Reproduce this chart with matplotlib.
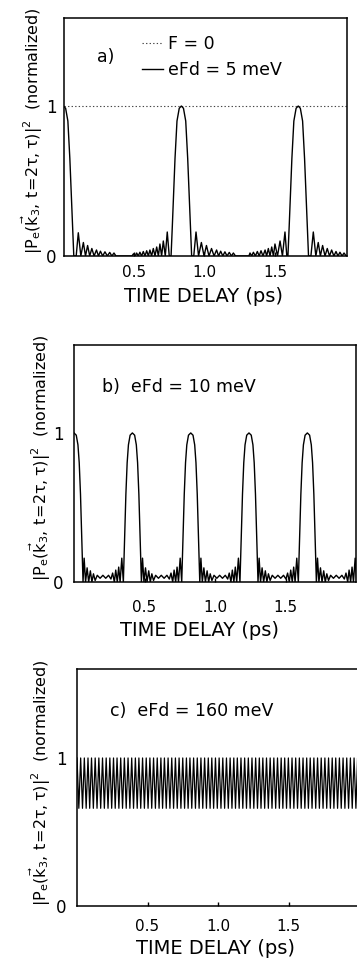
import matplotlib
matplotlib.use("Agg")
import matplotlib.pyplot as plt
import numpy as np

# ------------------------------------------------------------------ data
# panel a : eFd = 5 meV  (time delay in ps, normalized signal)
a_time = [0.000, 0.015, 0.031, 0.045, 0.055, 0.064, 0.073,
          0.090, 0.105, 0.123, 0.141, 0.156, 0.171, 0.186, 0.201, 0.217, 0.234, 0.248,
          0.262, 0.278, 0.294, 0.311, 0.328, 0.343, 0.358, 0.372, 0.485,
          0.497, 0.508, 0.519, 0.530, 0.542, 0.554, 0.566, 0.578, 0.590, 0.602, 0.613,
          0.625, 0.637, 0.649, 0.661, 0.673, 0.684, 0.696, 0.708, 0.722, 0.736, 0.750,
          0.763, 0.772, 0.781, 0.791, 0.805, 0.821, 0.836, 0.851, 0.867, 0.881, 0.891,
          0.900, 0.909,
          0.924, 0.940, 0.958, 0.978, 0.997, 1.014, 1.032, 1.050, 1.068, 1.086, 1.100,
          1.115, 1.130, 1.145, 1.160, 1.176, 1.191, 1.205, 1.220, 1.315,
          1.323, 1.335, 1.347, 1.361, 1.375, 1.388, 1.401, 1.415, 1.430, 1.441, 1.453,
          1.465, 1.477, 1.489, 1.500, 1.518, 1.536, 1.553, 1.571, 1.584,
          1.592, 1.601, 1.610, 1.620, 1.634, 1.650, 1.665, 1.680, 1.696, 1.710, 1.720,
          1.729, 1.738,
          1.755, 1.772, 1.790, 1.807, 1.822, 1.838, 1.855, 1.871, 1.887, 1.902, 1.918,
          1.933, 1.947, 1.961, 1.976, 1.990, 2.005, 2.020]
a_value = [1.00, 0.985, 0.90, 0.65, 0.42, 0.20, 0.00,
           0.00, 0.155, 0.00, 0.09, 0.00, 0.07, 0.00, 0.05, 0.00, 0.04, 0.00,
           0.032, 0.00, 0.028, 0.00, 0.024, 0.00, 0.02, 0.00, 0.00,
           0.015, 0.00, 0.02, 0.00, 0.025, 0.00, 0.03, 0.00, 0.035, 0.00, 0.04,
           0.00, 0.05, 0.00, 0.06, 0.00, 0.08, 0.00, 0.10, 0.00, 0.16, 0.00,
           0.00, 0.20, 0.42, 0.65, 0.90, 0.985, 1.00, 0.985, 0.90, 0.65, 0.42,
           0.20, 0.00,
           0.00, 0.16, 0.00, 0.09, 0.00, 0.07, 0.00, 0.05, 0.00, 0.04, 0.00,
           0.032, 0.00, 0.028, 0.00, 0.024, 0.00, 0.02, 0.00, 0.00,
           0.02, 0.00, 0.025, 0.00, 0.03, 0.00, 0.035, 0.00, 0.04, 0.00, 0.05,
           0.00, 0.06, 0.00, 0.08, 0.00, 0.10, 0.00, 0.16, 0.00,
           0.00, 0.20, 0.42, 0.65, 0.90, 0.985, 1.00, 0.985, 0.90, 0.65, 0.42,
           0.20, 0.00,
           0.00, 0.16, 0.00, 0.09, 0.00, 0.07, 0.00, 0.05, 0.00, 0.04, 0.00,
           0.03, 0.00, 0.025, 0.00, 0.02, 0.00, 0.00]
f0_level = 1.0   # F = 0 curve (constant)

# panel b : eFd = 10 meV
b_time = [0.000, 0.016, 0.028, 0.037, 0.046, 0.055, 0.064,
          0.072, 0.082, 0.093, 0.104, 0.116, 0.127, 0.138, 0.150, 0.165, 0.185, 0.205,
          0.225, 0.245, 0.262, 0.274, 0.286, 0.296, 0.307, 0.317, 0.327, 0.339,
          0.350, 0.359, 0.368, 0.377, 0.386, 0.398, 0.414, 0.430, 0.442, 0.451, 0.460,
          0.469, 0.478,
          0.486, 0.496, 0.507, 0.518, 0.530, 0.541, 0.552, 0.564, 0.579, 0.599, 0.619,
          0.639, 0.659, 0.676, 0.688, 0.700, 0.710, 0.721, 0.731, 0.741, 0.753,
          0.764, 0.773, 0.782, 0.791, 0.800, 0.812, 0.828, 0.844, 0.856, 0.865, 0.874,
          0.883, 0.892,
          0.900, 0.910, 0.921, 0.932, 0.944, 0.955, 0.966, 0.978, 0.993, 1.013, 1.033,
          1.053, 1.073, 1.090, 1.101, 1.113, 1.123, 1.134, 1.144, 1.154, 1.166,
          1.177, 1.186, 1.195, 1.204, 1.213, 1.225, 1.241, 1.257, 1.269, 1.278, 1.287,
          1.296, 1.305,
          1.313, 1.323, 1.334, 1.345, 1.357, 1.368, 1.379, 1.391, 1.406, 1.426, 1.446,
          1.466, 1.486, 1.503, 1.515, 1.527, 1.537, 1.548, 1.558, 1.568, 1.580,
          1.591, 1.600, 1.609, 1.618, 1.627, 1.639, 1.655, 1.671, 1.683, 1.692, 1.701,
          1.710, 1.719,
          1.727, 1.737, 1.748, 1.759, 1.771, 1.782, 1.793, 1.805, 1.820, 1.840, 1.860,
          1.880, 1.900, 1.917, 1.929, 1.941, 1.951, 1.962, 1.972, 1.982, 1.994,
          2.005, 2.014]
b_value = [1.00, 0.985, 0.92, 0.80, 0.59, 0.30, 0.00,
           0.16, 0.00, 0.095, 0.00, 0.075, 0.00, 0.055, 0.01, 0.045, 0.025, 0.045,
           0.025, 0.045, 0.02, 0.06, 0.00, 0.08, 0.00, 0.10, 0.00, 0.16,
           0.00, 0.30, 0.59, 0.80, 0.92, 0.985, 1.00, 0.985, 0.92, 0.80, 0.59,
           0.30, 0.00,
           0.16, 0.00, 0.095, 0.00, 0.075, 0.00, 0.055, 0.01, 0.045, 0.025, 0.045,
           0.025, 0.045, 0.02, 0.06, 0.00, 0.08, 0.00, 0.10, 0.00, 0.16,
           0.00, 0.30, 0.59, 0.80, 0.92, 0.985, 1.00, 0.985, 0.92, 0.80, 0.59,
           0.30, 0.00,
           0.16, 0.00, 0.095, 0.00, 0.075, 0.00, 0.055, 0.01, 0.045, 0.025, 0.045,
           0.025, 0.045, 0.02, 0.06, 0.00, 0.08, 0.00, 0.10, 0.00, 0.16,
           0.00, 0.30, 0.59, 0.80, 0.92, 0.985, 1.00, 0.985, 0.92, 0.80, 0.59,
           0.30, 0.00,
           0.16, 0.00, 0.095, 0.00, 0.075, 0.00, 0.055, 0.01, 0.045, 0.025, 0.045,
           0.025, 0.045, 0.02, 0.06, 0.00, 0.08, 0.00, 0.10, 0.00, 0.16,
           0.00, 0.30, 0.59, 0.80, 0.92, 0.985, 1.00, 0.985, 0.92, 0.80, 0.59,
           0.30, 0.00,
           0.16, 0.00, 0.095, 0.00, 0.075, 0.00, 0.055, 0.01, 0.045, 0.025, 0.045,
           0.025, 0.045, 0.02, 0.06, 0.00, 0.08, 0.00, 0.10, 0.00, 0.16,
           0.00, 0.30]

# panel c : eFd = 160 meV  (fast oscillation between ~0.66 and 1.0)
c_peak_time = [0.000, 0.026, 0.052, 0.078, 0.103, 0.129, 0.155, 0.181, 0.207, 0.233,
               0.259, 0.284, 0.310, 0.336, 0.362, 0.388, 0.414, 0.439, 0.465, 0.491,
               0.517, 0.543, 0.569, 0.595, 0.620, 0.646, 0.672, 0.698, 0.724, 0.750,
               0.776, 0.801, 0.827, 0.853, 0.879, 0.905, 0.931, 0.956, 0.982, 1.008,
               1.034, 1.060, 1.086, 1.112, 1.137, 1.163, 1.189, 1.215, 1.241, 1.267,
               1.293, 1.318, 1.344, 1.370, 1.396, 1.422, 1.448, 1.473, 1.499, 1.525,
               1.551, 1.577, 1.603, 1.629, 1.654, 1.680, 1.706, 1.732, 1.758, 1.784,
               1.810, 1.835, 1.861, 1.887, 1.913, 1.939, 1.965, 1.990]
c_trough_time = [0.013, 0.039, 0.065, 0.090, 0.116, 0.142, 0.168, 0.194, 0.220, 0.246,
                 0.271, 0.297, 0.323, 0.349, 0.375, 0.401, 0.427, 0.452, 0.478, 0.504,
                 0.530, 0.556, 0.582, 0.607, 0.633, 0.659, 0.685, 0.711, 0.737, 0.763,
                 0.788, 0.814, 0.840, 0.866, 0.892, 0.918, 0.944, 0.969, 0.995, 1.021,
                 1.047, 1.073, 1.099, 1.124, 1.150, 1.176, 1.202, 1.228, 1.254, 1.280,
                 1.305, 1.331, 1.357, 1.383, 1.409, 1.435, 1.460, 1.486, 1.512, 1.538,
                 1.564, 1.590, 1.616, 1.641, 1.667, 1.693, 1.719, 1.745, 1.771, 1.797,
                 1.822, 1.848, 1.874, 1.900, 1.926, 1.952, 1.978, 2.003]
c_peak_value = [1.0, 1.0, 1.0, 1.0, 1.0, 1.0, 1.0, 1.0, 1.0, 1.0,
                1.0, 1.0, 1.0, 1.0, 1.0, 1.0, 1.0, 1.0, 1.0, 1.0,
                1.0, 1.0, 1.0, 1.0, 1.0, 1.0, 1.0, 1.0, 1.0, 1.0,
                1.0, 1.0, 1.0, 1.0, 1.0, 1.0, 1.0, 1.0, 1.0, 1.0,
                1.0, 1.0, 1.0, 1.0, 1.0, 1.0, 1.0, 1.0, 1.0, 1.0,
                1.0, 1.0, 1.0, 1.0, 1.0, 1.0, 1.0, 1.0, 1.0, 1.0,
                1.0, 1.0, 1.0, 1.0, 1.0, 1.0, 1.0, 1.0, 1.0, 1.0,
                1.0, 1.0, 1.0, 1.0, 1.0, 1.0, 1.0, 1.0]
c_trough_value = [0.66, 0.66, 0.66, 0.66, 0.66, 0.66, 0.66, 0.66, 0.66, 0.66,
                  0.66, 0.66, 0.66, 0.66, 0.66, 0.66, 0.66, 0.66, 0.66, 0.66,
                  0.66, 0.66, 0.66, 0.66, 0.66, 0.66, 0.66, 0.66, 0.66, 0.66,
                  0.66, 0.66, 0.66, 0.66, 0.66, 0.66, 0.66, 0.66, 0.66, 0.66,
                  0.66, 0.66, 0.66, 0.66, 0.66, 0.66, 0.66, 0.66, 0.66, 0.66,
                  0.66, 0.66, 0.66, 0.66, 0.66, 0.66, 0.66, 0.66, 0.66, 0.66,
                  0.66, 0.66, 0.66, 0.66, 0.66, 0.66, 0.66, 0.66, 0.66, 0.66,
                  0.66, 0.66, 0.66, 0.66, 0.66, 0.66, 0.66, 0.66]

xtick_values = [0.5, 1.0, 1.5]
xtick_labels = ["0.5", "1.0", "1.5"]
ytick_values = [0, 1]
ytick_labels = ["0", "1"]

panel_texts = ["b)  eFd = 10 meV", "c)  eFd = 160 meV"]
legend_labels = ["F = 0", "eFd = 5 meV"]
xlabel_text = "TIME DELAY (ps)"
ylabel_text = r"$|P_e(\vec{k}_3,\,t\!=\!2\tau,\tau)|^2$  (normalized)"

# ------------------------------------------------------------------ style
plt.rcParams['font.family'] = ['DejaVu Sans']
plt.rcParams['mathtext.fontset'] = 'custom'
plt.rcParams['mathtext.rm'] = 'DejaVu Sans'
plt.rcParams['mathtext.it'] = 'DejaVu Sans'
plt.rcParams['mathtext.bf'] = 'DejaVu Sans:bold'

W, H = 357, 965
fig = plt.figure(figsize=(W / 100, H / 100), dpi=100)
fig.patch.set_facecolor('white')

# axes boxes in pixels: left, top, right, bottom ; plus xmax, ymax
boxes = {
    'a': (63.5, 18, 347.0, 256, 2.011, 1.587),
    'b': (74.0, 345, 356.0, 582, 2.000, 1.590),
    'c': (77.0, 669, 359.0, 906, 2.000, 1.601),
}


def make_axes(key):
    l, t, r, b, xmax, ymax = boxes[key]
    ax = fig.add_axes([l / W, 1 - b / H, (r - l) / W, (b - t) / H])
    ax.set_xlim(0, xmax)
    ax.set_ylim(0, ymax)
    for s in ax.spines.values():
        s.set_linewidth(1.1)
    return ax


def frac(key, x, y):
    l, t, r, b, _, _ = boxes[key]
    return (x - l) / (r - l), (b - y) / (b - t)


def style(ax, key, xpad, ypad, xlab_px, ylab_px):
    ax.set_xticks(xtick_values)
    ax.set_xticklabels(xtick_labels)
    ax.set_yticks(ytick_values)
    ax.set_yticklabels(ytick_labels)
    ax.tick_params(axis='x', direction='in', length=3, width=1.0,
                   labelsize=11, pad=xpad)
    ax.tick_params(axis='y', length=0, labelsize=12, pad=ypad)
    ax.set_xlabel(xlabel_text, fontsize=14, va='center', ha='center')
    ax.xaxis.set_label_coords(*frac(key, *xlab_px))
    ax.set_ylabel(ylabel_text, fontsize=11.5, va='center', ha='center')
    ax.yaxis.set_label_coords(*frac(key, *ylab_px))


lw = 1.0

# ---- panel a
axa = make_axes('a')
ref = axa.axhline(f0_level, color='#444444', lw=0.8, ls=(0, (1.2, 2.0)))
sol, = axa.plot(a_time, a_value, color='black', lw=lw)
style(axa, 'a', 6.5, 5.0, (203, 296), (32, 131))
axa.text(*frac('a', 106, 57), "a)", transform=axa.transAxes,
         fontsize=12.5, ha='center', va='center')
axa.legend([ref, sol], legend_labels, loc='upper left',
           bbox_to_anchor=frac('a', 142, 35), frameon=False,
           fontsize=12.5, handlelength=1.2, handletextpad=0.3,
           labelspacing=0.45, borderpad=0, borderaxespad=0)

# ---- panel b
axb = make_axes('b')
axb.plot(b_time, b_value, color='black', lw=lw)
style(axb, 'b', 13.0, 7.5, (200, 630), (40, 458))
axb.text(*frac('b', 102, 387), panel_texts[0], transform=axb.transAxes,
         fontsize=12.5, ha='left', va='center')

# ---- panel c
axc = make_axes('c')
c_t = np.empty(len(c_peak_time) + len(c_trough_time))
c_v = np.empty_like(c_t)
c_t[0::2] = c_peak_time
c_t[1::2] = c_trough_time
c_v[0::2] = c_peak_value
c_v[1::2] = c_trough_value
axc.plot(c_t, c_v, color='black', lw=0.9)
style(axc, 'c', 9.5, 7.5, (215, 948), (40, 783))
axc.text(*frac('c', 110, 711), panel_texts[1], transform=axc.transAxes,
         fontsize=12.5, ha='left', va='center')

fig.savefig('out.png', dpi=100, facecolor='white')
